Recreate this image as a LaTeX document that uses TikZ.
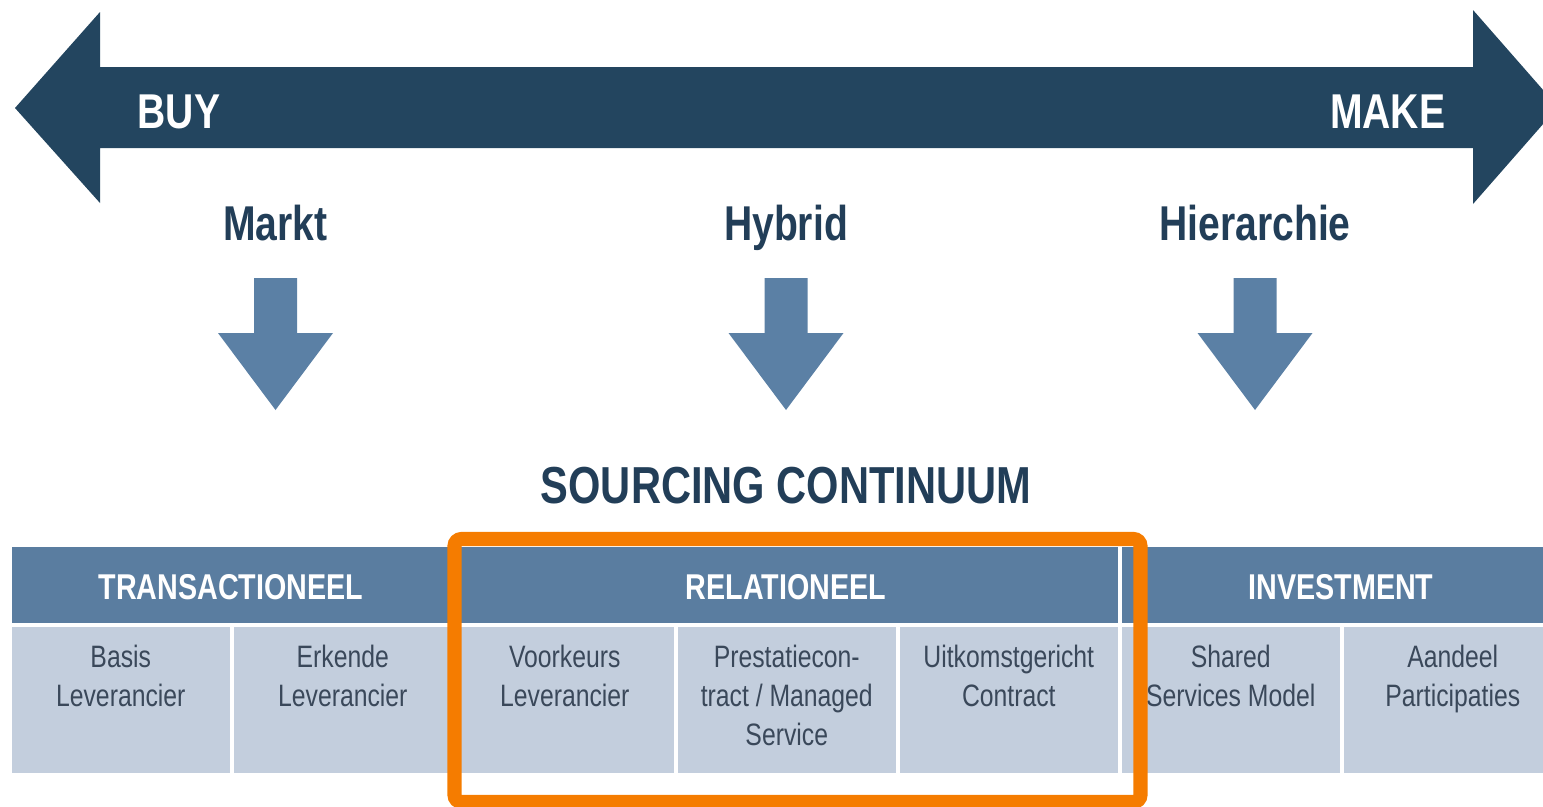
\documentclass[tikz,border=0pt]{standalone}
\usepackage{fontspec}
\setmainfont[FakeStretch=0.8]{Liberation Sans}
\usetikzlibrary{positioning}

\definecolor{navy}{RGB}{35,69,95}
\definecolor{labelnavy}{RGB}{34,62,88}
\definecolor{midblue}{RGB}{91,128,165}
\definecolor{headblue}{RGB}{90,125,160}
\definecolor{cellblue}{RGB}{195,206,221}
\definecolor{celltext}{RGB}{58,72,90}
\definecolor{hilite}{RGB}{245,124,0}

\tikzset{
  endlabel/.style={text=white, font=\fontsize{13.9}{16}\selectfont\bfseries, inner sep=0pt, anchor=base},
  category/.style={text=labelnavy, font=\fontsize{13.9}{16}\selectfont\bfseries, inner sep=0pt, anchor=base},
  title/.style={text=labelnavy, font=\fontsize{14.8}{17}\selectfont\bfseries, inner sep=0pt, anchor=base},
  headcell/.style={fill=headblue, inner sep=0pt, minimum height=0.76cm, anchor=north west},
  headtext/.style={text=white, font=\fontsize{10.2}{12}\selectfont\bfseries, inner sep=0pt, anchor=base},
  bodycell/.style={fill=cellblue, inner sep=0pt, minimum width=2.18cm, minimum height=1.46cm, anchor=north west},
  bodytext/.style={text=celltext, font=\fontsize{8.8}{11.1}\selectfont, inner sep=0pt, align=center, anchor=north},
  pics/downarrow/.style={code={
    \fill[midblue] (-21.5,0) -- (21.5,0) -- (21.5,55) -- (57.5,55) -- (0,132)
      -- (-57.5,55) -- (-21.5,55) -- cycle;}}
}

\begin{document}
\begin{tikzpicture}[x=0.01cm, y=-0.01cm]
\useasboundingbox (0,0) rectangle (1543,806);
\clip (0,0) rectangle (1543,806);

% two-headed BUY / MAKE arrow
\fill[navy] (15,108) -- (100,12) -- (100,67) -- (1473,67) -- (1473,10)
  -- (1558,107) -- (1473,204) -- (1473,148) -- (100,148) -- (100,203) -- cycle;
\node[endlabel, anchor=base west] (buy) at (137,128) {BUY};
\node[endlabel, anchor=base east] (make) at (1446,128) {MAKE};

% governance forms
\node[category] (markt) at (275.5,240) {Markt};
\node[category] (hybrid) at (786,240) {Hybrid};
\node[category] (hier) at (1255,240) {Hierarchie};

\pic at (275.5,278) {downarrow};
\pic at (786,278) {downarrow};
\pic at (1255,278) {downarrow};

\node[title] (continuum) at (786,503) {SOURCING CONTINUUM};

% header row
\node[headcell, minimum width=4.40cm] (htrans) at (11,546) {};
\node[headcell, minimum width=6.62cm] (hrel) at (455,546) {};
\node[headcell, minimum width=4.40cm] (hinv) at (1121,546) {};
\node[headtext] at (231,599) {TRANSACTIONEEL};
\node[headtext] at (786,599) {RELATIONEEL};
\node[headtext] at (1341,599) {INVESTMENT};

% body cells
\node[bodycell] (c1) at (11,626) {};
\node[bodycell] (c2) at (233,626) {};
\node[bodycell] (c3) at (455,626) {};
\node[bodycell] (c4) at (677,626) {};
\node[bodycell] (c5) at (899,626) {};
\node[bodycell] (c6) at (1121,626) {};
\node[bodycell] (c7) at (1343,626) {};

\node[bodytext, below=0.18cm of c1.north] {Basis\\Leverancier};
\node[bodytext, below=0.18cm of c2.north] {Erkende\\Leverancier};
\node[bodytext, below=0.18cm of c3.north] {Voorkeurs\\Leverancier};
\node[bodytext, below=0.18cm of c4.north] {Prestatiecon-\\tract / Managed\\Service};
\node[bodytext, below=0.18cm of c5.north] {Uitkomstgericht\\Contract};
\node[bodytext, below=0.18cm of c6.north] {Shared\\Services Model};
\node[bodytext, below=0.18cm of c7.north] {Aandeel\\Participaties};

% highlight frame round the relational forms
\draw[hilite, line width=4pt, rounded corners=2pt] (454.5,539) rectangle (1140.5,802);
\end{tikzpicture}
\end{document}
